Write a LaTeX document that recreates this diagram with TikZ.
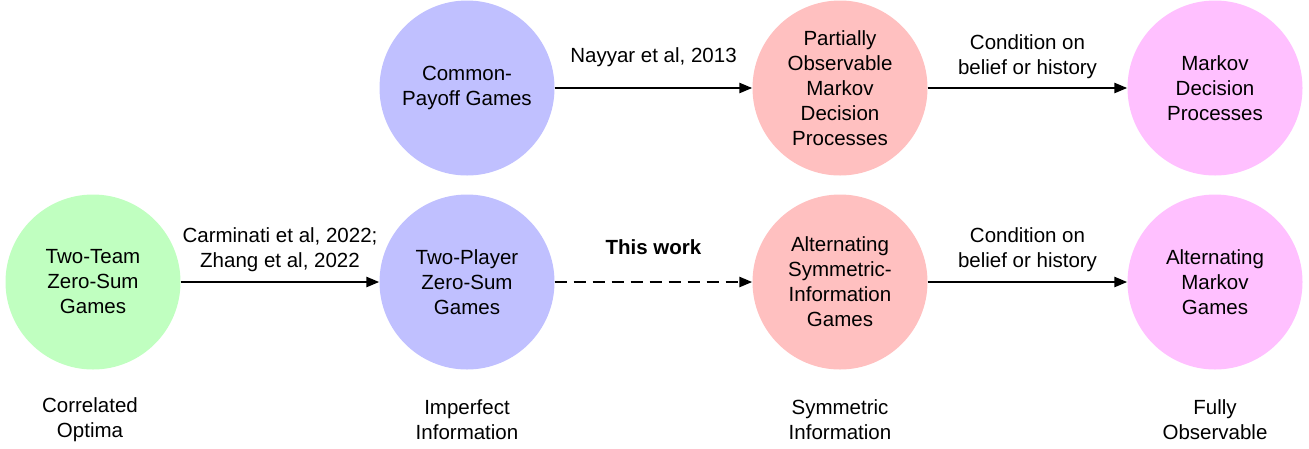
\documentclass[tikz,border=0pt]{standalone}
\usepackage{fontspec}
\setmainfont{Liberation Sans}
\usetikzlibrary{arrows.meta}
\definecolor{cgreen}{RGB}{192,255,192}
\definecolor{cblue}{RGB}{192,192,255}
\definecolor{cred}{RGB}{255,192,192}
\definecolor{cpink}{RGB}{255,192,255}
\tikzset{
  game/.style={circle, minimum size=175pt, inner sep=0pt, align=center, font=\fontsize{20.5}{25}\selectfont},
  lbl/.style={align=center, font=\fontsize{20.5}{25}\selectfont},
  link/.style={line width=2.5pt, -{Triangle[length=13pt,width=10pt]}}
}
\begin{document}
\begin{tikzpicture}[x=1pt,y=-1pt]
\useasboundingbox (0,0) rectangle (1309,448);
% top row
\node[game, fill=cblue] (common) at (467,88) {Common-\\Payoff Games};
\node[game, fill=cred] (pomdp) at (840,88) {Partially\\Observable\\Markov\\Decision\\Processes};
\node[game, fill=cpink] (mdp) at (1215,88) {Markov\\Decision\\Processes};
% bottom row
\node[game, fill=cgreen] (twoteam) at (93,282) {Two-Team\\Zero-Sum\\Games};
\node[game, fill=cblue] (twoplayer) at (467,282) {Two-Player\\Zero-Sum\\Games};
\node[game, fill=cred] (altsym) at (840,282) {Alternating\\Symmetric-\\Information\\Games};
\node[game, fill=cpink] (altmarkov) at (1215,282) {Alternating\\Markov\\Games};
% arrows
\draw[link] (common) -- (pomdp) node[lbl, midway, above=17pt] {Nayyar et al, 2013};
\draw[link] (pomdp) -- (mdp) node[lbl, midway, above=5pt] {Condition on\\belief or history};
\draw[link] (twoteam) -- (twoplayer) node[lbl, midway, above=6pt] {Carminati et al, 2022;\\Zhang et al, 2022};
\draw[link, dash pattern=on 12pt off 7pt] (twoplayer) -- (altsym) node[lbl, midway, above=23pt, font=\fontsize{20.5}{25}\selectfont\bfseries] {This work};
\draw[link] (altsym) -- (altmarkov) node[lbl, midway, above=6pt] {Condition on\\belief or history};
% column labels
\foreach \x/\name/\texto in {90/corr/{Correlated\\Optima},467/imperf/{Imperfect\\Information},840/symm/{Symmetric\\Information},1215/fully/{Fully\\Observable}}
\node[lbl] (\name) at (\x,420) {\texto};
\end{tikzpicture}
\end{document}
